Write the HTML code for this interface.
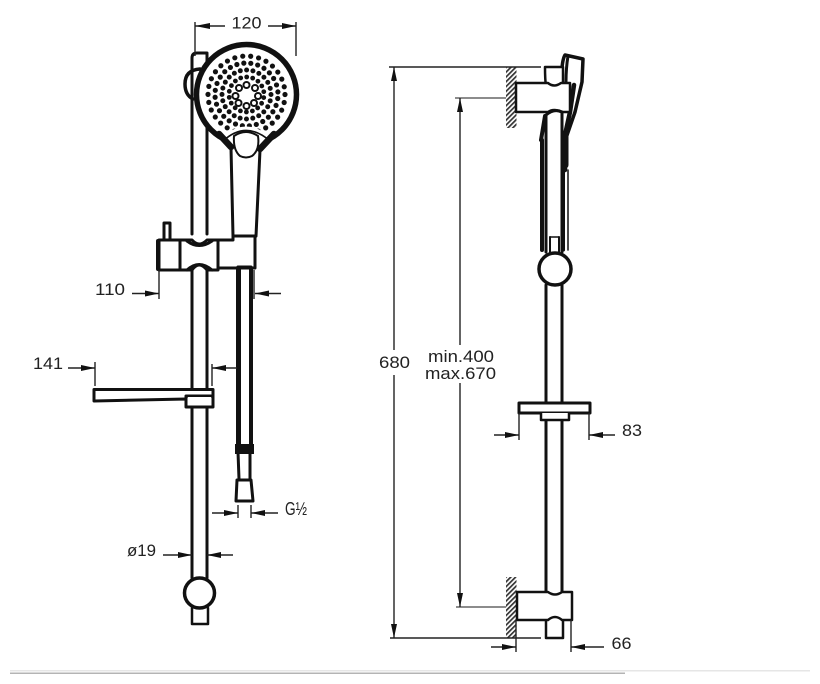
<!DOCTYPE html>
<html>
<head>
<meta charset="utf-8">
<style>
html,body{margin:0;padding:0;background:#fff;}
svg{display:block;}
text{font-family:"Liberation Sans",sans-serif;fill:#222;font-size:16.5px;}
.t{fill:none;stroke:#111;stroke-width:3;stroke-linejoin:round;stroke-linecap:round;}
.m{fill:none;stroke:#111;stroke-width:4;stroke-linecap:round;stroke-linejoin:round;}
.b{fill:#fff;stroke:#111;stroke-width:3;stroke-linejoin:round;}
.d{fill:none;stroke:#222;stroke-width:1.4;}
.g{fill:none;stroke:#666;stroke-width:1.6;}
.a{fill:#111;stroke:none;}
</style>
</head>
<body>
<svg width="820" height="684" viewBox="0 0 820 684" xmlns="http://www.w3.org/2000/svg">
<defs>
<pattern id="hatch" width="3.4" height="3.4" patternUnits="userSpaceOnUse" patternTransform="rotate(-45)">
<rect width="3.4" height="3.4" fill="#fff"/><rect width="3.4" height="1.7" fill="#333"/>
</pattern>
</defs>

<!-- LEFT: rail -->
<path class="t" d="M192 234V58Q192 53 197 53H207M207 53V234"/>
<path class="m" d="M200 69Q185 70 185 84Q185 95 193 99" style="stroke-width:3.500"/>
<path class="t" d="M192 270V389M207 270V389M192 407V578M207 407V578"/>

<!-- Head -->
<circle cx="246.500" cy="94.500" r="50" fill="#fff" stroke="#111" stroke-width="5.500"/>
<g fill="none" stroke="#111" stroke-linecap="round">
<circle cx="246.500" cy="94.500" r="38.500" stroke-width="5.200" stroke-dasharray="0 8.060"/>
<circle cx="246.500" cy="94.500" r="31.500" stroke-width="5.200" stroke-dasharray="0 7.070" stroke-dashoffset="3"/>
<circle cx="246.500" cy="94.500" r="24.500" stroke-width="5" stroke-dasharray="0 6.410"/>
<circle cx="246.500" cy="94.500" r="17.500" stroke-width="4.800" stroke-dasharray="0 6.110" stroke-dashoffset="3"/>
</g>
<g fill="#fff" stroke="#111" stroke-width="2">
<circle cx="246.500" cy="85" r="3"/><circle cx="255" cy="88" r="3"/><circle cx="258" cy="96" r="3"/>
<circle cx="254" cy="103" r="3"/><circle cx="246.500" cy="106" r="3"/><circle cx="238.500" cy="103" r="3"/>
<circle cx="235.500" cy="96" r="3"/><circle cx="239" cy="88" r="3"/>
</g>
<path d="M220 139Q246 114 273 139L262 150H232Z" fill="#fff"/>
<path d="M223 141Q246 120 270 141" fill="none" stroke="#111" stroke-width="1.600"/>
<path class="m" d="M219 134L231 147M274 134L260 149" style="stroke-width:6.500"/>
<path d="M234 136Q246 128 258 136Q260 150 252 156Q246 159 240 156Q233 150 234 136Z" fill="#fff" stroke="#111" stroke-width="2"/>

<!-- handle -->
<path class="t" d="M231 148L233 236M260 150L256 236"/>

<!-- slider -->
<path class="t" d="M164 239V223H170V239"/>
<path class="b" d="M159 240H180V270H159Z"/>
<path class="b" d="M180 240H192Q199 248 207 240H218V270H207Q199 260 192 270H180Z"/>
<path class="b" d="M218 240H233V236H255V268H218Z"/>
<path class="t" d="M158 241V269" style="stroke-width:4"/>
<path class="t" d="M187 241Q199 250 212 241M187 270Q199 259 212 270"/>

<!-- hose -->
<path class="m" d="M238.500 268V447" style="stroke-width:5"/>
<path class="m" d="M251 268V447"/>
<path class="t" d="M238 267H251"/>
<path class="t" d="M238 452L239 479M250 452L250 479"/>
<rect x="235" y="444" width="19" height="10" fill="#111"/>
<path class="b" d="M237 480H251L253 501H236Z"/>

<!-- soap dish -->
<path class="b" d="M94 389.500H213V400H187L186 399L94 401Z"/>
<path class="b" d="M186 396V407H213V396Z"/>
<rect x="188" y="397" width="23" height="8" fill="#fff"/>

<!-- bottom knob -->
<circle cx="199.500" cy="593" r="15" fill="#fff" stroke="#111" stroke-width="3.500"/>
<path class="t" d="M192 608V624H208V608" style="stroke-width:2.500"/>

<!-- LEFT dims -->
<path class="d" d="M195 22V56M296 22V56M195 26H225M268 26H296"/>
<path class="a" d="M195 26L210 23V29ZM296 26L282 23V29Z"/>
<text x="231.500" y="28.500" textLength="30" lengthAdjust="spacingAndGlyphs">120</text>

<path class="d" d="M159 270V299M254 270V299M132 293.500H159M255 293.500H281"/>
<path class="a" d="M159 293.500L145 290.500V296.500ZM255 293.500L269 290.500V296.500Z"/>
<text x="95" y="295" textLength="30" lengthAdjust="spacingAndGlyphs">110</text>

<path class="d" d="M95 362V386M212 364V386M68 368H95M212 368H237"/>
<path class="a" d="M95 368L81 365V371ZM212 368L226 365V371Z"/>
<text x="33" y="369" textLength="30" lengthAdjust="spacingAndGlyphs">141</text>

<path class="d" d="M238 505V518M251 505V518M212 513H238M251 513H278"/>
<path class="a" d="M238 513L224 510V516ZM251 513L265 510V516Z"/>
<text x="285" y="515" textLength="22" lengthAdjust="spacingAndGlyphs" style="font-size:18px">G½</text>

<path class="d" d="M163 555H192M207 555H233"/>
<path class="a" d="M192 555L178 552V558ZM207 555L221 552V558Z"/>
<text x="127" y="556" textLength="29" lengthAdjust="spacingAndGlyphs">ø19</text>

<!-- RIGHT: hatches -->
<rect x="506" y="67" width="10.500" height="61" fill="url(#hatch)"/>
<rect x="506" y="577" width="10.500" height="61" fill="url(#hatch)"/>

<!-- RIGHT: handle -->
<path d="M565 141L575 112L582 82L583 59L565 55Q561 62 562 83" class="m" style="stroke-width:3.500"/>
<path d="M568 56Q566 68 566 82" class="t"/>
<path class="m" d="M574 85L570 112L565 135V170" style="stroke-width:4.500"/>
<path class="m" d="M565 135V165" style="stroke-width:7"/>
<path class="t" d="M563.500 170V250" style="stroke-width:3"/>
<path class="t" d="M568 170V250" style="stroke-width:1.500"/>
<path class="m" d="M542 140V250" style="stroke-width:4"/>
<path class="t" d="M545 116L541 140" style="stroke-width:4"/>

<!-- RIGHT: top bracket -->
<path class="b" d="M545 67H563V86H546Q545 80 545 67Z" style="stroke-width:2.500"/>
<path class="b" d="M516 83H548Q554 88 561 83H570V112H561Q554 108 548 112H516Z" style="stroke-width:2.500"/>
<path class="t" d="M546 115Q554 108 562 112"/>

<!-- RIGHT: rail -->
<path class="t" d="M546 116V252M562 113V252"/>
<path class="t" d="M550 237V253M559 237V253" style="stroke-width:2"/>
<path class="t" d="M550 237H559" style="stroke-width:1.500"/>
<circle cx="555" cy="269" r="16" fill="#fff" stroke="#111" stroke-width="3.500"/>
<path class="t" d="M546 285V402M562 285V402"/>

<!-- RIGHT: dish -->
<path class="b" d="M519 403H590V413H519Z"/>
<path class="b" d="M541 413V420H569V413" style="stroke-width:2.500"/>
<path class="t" d="M546 421V592M562 421V592"/>

<!-- RIGHT: lower bracket -->
<path class="b" d="M517 592H548Q555 597 562 592H572V620H562Q555 614 548 620H517Z" style="stroke-width:2.500"/>
<path class="t" d="M546 621V638H563V621" style="stroke-width:2.500"/>

<!-- RIGHT dims -->
<path class="d" d="M389 67H541M390 638H541M394 67V350M394 375V638"/>
<path class="a" d="M394 67L391 81H397ZM394 638L391 624H397Z"/>
<text x="379" y="368" textLength="31" lengthAdjust="spacingAndGlyphs">680</text>

<path class="g" d="M455 98H506M456 607H506"/>
<path class="d" d="M460 98V345M460 383V607"/>
<path class="a" d="M460 98L457 112H463ZM460 607L457 593H463Z"/>
<text x="428" y="362" textLength="66" lengthAdjust="spacingAndGlyphs">min.400</text>
<text x="425" y="379" textLength="71" lengthAdjust="spacingAndGlyphs">max.670</text>

<path class="d" d="M519 413V440M589 413V440M494 435H519M589 435H615"/>
<path class="a" d="M519 435L505 432V438ZM589 435L603 432V438Z"/>
<text x="622" y="436" textLength="20" lengthAdjust="spacingAndGlyphs">83</text>

<path class="d" d="M516 620V652M571 620V652M491 647H516M571 647H604"/>
<path class="a" d="M516 647L502 644V650ZM571 647L585 644V650Z"/>
<text x="611.500" y="649" textLength="20" lengthAdjust="spacingAndGlyphs">66</text>

<!-- footer lines -->
<rect x="10" y="670" width="800" height="1.500" fill="#e6e6e6"/>
<rect x="10" y="672.500" width="615" height="1.500" fill="#b4b4b4"/>
</svg>
</body>
</html>
